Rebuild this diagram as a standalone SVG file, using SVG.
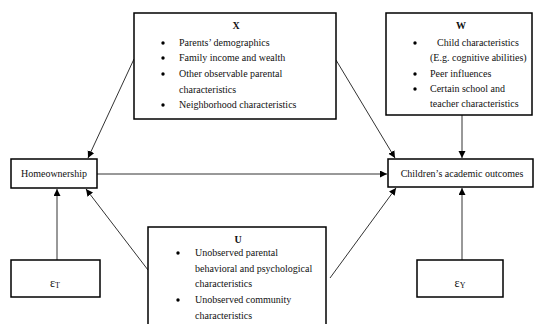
<svg xmlns="http://www.w3.org/2000/svg" width="534" height="324" viewBox="0 0 534 324">
<style>
.box{fill:#fff;stroke:#000;stroke-width:1.5}
.t{font-family:"Liberation Serif","Times New Roman",serif;font-size:10px;fill:#111}
.b{font-weight:bold}
.c{text-anchor:middle}
.conn line{stroke:#333;stroke-width:1;marker-end:url(#ah)}
.dot{fill:#000}
</style>
<defs>
<marker id="ah" markerUnits="userSpaceOnUse" markerWidth="8" markerHeight="8" refX="7" refY="3.5" orient="auto">
<path d="M0,0 L7,3.5 L0,7 z" fill="#000"/>
</marker>
</defs>
<rect width="534" height="324" fill="#fff"/>
<g id="connectors" class="conn">
<line x1="134" y1="59" x2="88" y2="158"/>
<line x1="336" y1="60" x2="395" y2="158"/>
<line x1="97" y1="174" x2="387" y2="174"/>
<line x1="462" y1="115" x2="462" y2="158"/>
<line x1="148" y1="270" x2="86" y2="189"/>
<line x1="330" y1="278" x2="396" y2="188"/>
<line x1="57" y1="260" x2="57" y2="189"/>
<line x1="462" y1="260" x2="462" y2="188"/>
</g>
<g id="X">
<rect class="box" x="134" y="13" width="202" height="106"/>
<text class="t b c" x="236" y="29">X</text>
<circle class="dot" cx="163" cy="43" r="1.7"/>
<circle class="dot" cx="163" cy="58" r="1.7"/>
<circle class="dot" cx="163" cy="74" r="1.7"/>
<circle class="dot" cx="163" cy="105" r="1.7"/>
<text class="t" x="179" y="46">Parents’ demographics</text>
<text class="t" x="179" y="61">Family income and wealth</text>
<text class="t" x="179" y="77">Other observable parental</text>
<text class="t" x="179" y="93">characteristics</text>
<text class="t" x="179" y="108">Neighborhood characteristics</text>
</g>
<g id="W">
<rect class="box" x="386" y="13" width="146" height="102"/>
<text class="t b c" x="461" y="29">W</text>
<circle class="dot" cx="415" cy="43" r="1.7"/>
<circle class="dot" cx="415" cy="74" r="1.7"/>
<circle class="dot" cx="415" cy="89" r="1.7"/>
<text class="t" x="437" y="46">Child characteristics</text>
<text class="t" x="430" y="61">(E.g. cognitive abilities)</text>
<text class="t" x="430" y="77">Peer influences</text>
<text class="t" x="430" y="92">Certain school and</text>
<text class="t" x="430" y="107">teacher characteristics</text>
</g>
<g id="U">
<rect class="box" x="148" y="227" width="178" height="110"/>
<text class="t b c" x="238" y="243">U</text>
<circle class="dot" cx="178" cy="253" r="1.7"/>
<circle class="dot" cx="178" cy="300" r="1.7"/>
<text class="t" x="195" y="256">Unobserved parental</text>
<text class="t" x="195" y="272">behavioral and psychological</text>
<text class="t" x="195" y="287">characteristics</text>
<text class="t" x="195" y="303">Unobserved community</text>
<text class="t" x="195" y="319">characteristics</text>
</g>
<g id="homeownership">
<rect class="box" x="11" y="159" width="86" height="29"/>
<text class="t c" x="54" y="177">Homeownership</text>
</g>
<g id="children">
<rect class="box" x="388" y="159" width="145" height="28"/>
<text class="t c" x="462" y="177">Children’s academic outcomes</text>
</g>
<g id="epsT">
<rect class="box" x="11" y="260" width="89" height="37"/>
<text class="t c" x="55" y="287" style="font-size:12px">ε<tspan style="font-size:8px" dy="1">T</tspan></text>
</g>
<g id="epsY">
<rect class="box" x="417" y="260" width="86" height="37"/>
<text class="t c" x="460" y="287" style="font-size:12px">ε<tspan style="font-size:8px" dy="1">Y</tspan></text>
</g>
</svg>
